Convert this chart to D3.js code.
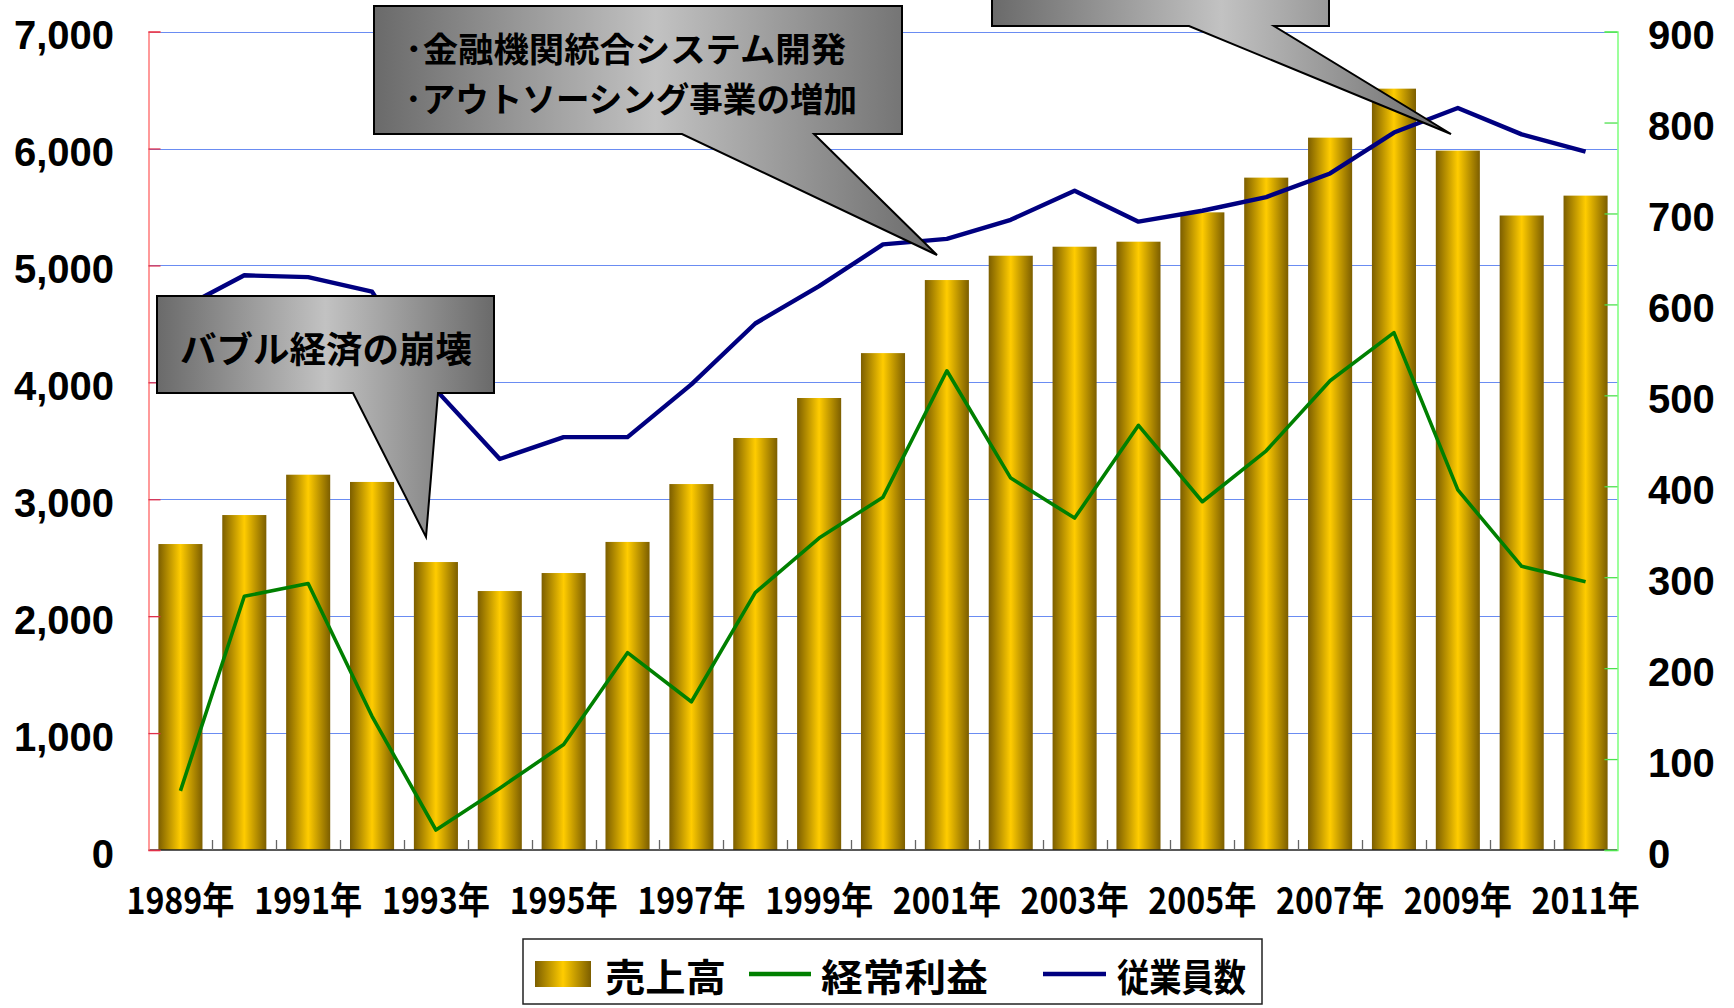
<!DOCTYPE html>
<html><head><meta charset="utf-8">
<script src="https://cdn.jsdelivr.net/npm/d3@7/dist/d3.min.js"></script>
<style>html,body{margin:0;padding:0;background:#fff;overflow:hidden}svg{display:block}</style>
</head><body>
<svg id="chart" width="1734" height="1008"></svg>
<script>
// ---------------- data ----------------
const years = ["1989","1990","1991","1992","1993","1994","1995","1996","1997","1998","1999","2000",
               "2001","2002","2003","2004","2005","2006","2007","2008","2009","2010","2011"];
const sales = [2617,2865,3210,3148,2463,2215,2369,2635,3130,3524,3866,4250,
               4875,5083,5160,5203,5454,5751,6093,6512,5982,5427,5597];           // 売上高 (left axis)
const profit = [65,279,293,147,22,68,116,217,163,283,343,388,
                527,409,365,467,383,439,516,569,396,312,295];                      // 経常利益 (right axis)
const employees = [595,632,630,614,506,430,454,454,512,579,620,666,
                   672,693,725,691,703,718,744,789,816,787,768];                   // 従業員数 (right axis)
const leftTicks = [0,1000,2000,3000,4000,5000,6000,7000];
const rightTicks = [0,100,200,300,400,500,600,700,800,900];
const yearLabelSuffix = "年";
const legendLabels = ["売上高","経常利益","従業員数"];
const callout1Text = ["バブル経済の崩壊"];
const callout2Text = ["･金融機関統合システム開発","･アウトソーシング事業の増加"];

// ---------------- layout ----------------
const W = 1734, H = 1008;
const plot = {left:148.5, right:1617.5, top:31.6, bottom:850};
const CJK = "'Noto Sans CJK JP','Noto Sans CJK SC',sans-serif";
const NUM = "'Liberation Sans',Arial,sans-serif";

const svg = d3.select("#chart");
const defs = svg.append("defs");

const barGrad = defs.append("linearGradient").attr("id","barGrad").attr("x1",0).attr("x2",1).attr("y1",0).attr("y2",0);
[[0,"#7c5e00"],[0.5,"#ffcc00"],[1,"#7c5e00"]].forEach(s=>barGrad.append("stop").attr("offset",s[0]).attr("stop-color",s[1]));
const callGrad = defs.append("linearGradient").attr("id","callGrad").attr("x1",0).attr("x2",1).attr("y1",0).attr("y2",0);
[[0,"#6a6a6a"],[0.5,"#c2c2c2"],[1,"#6a6a6a"]].forEach(s=>callGrad.append("stop").attr("offset",s[0]).attr("stop-color",s[1]));

const x = d3.scaleBand().domain(years).range([plot.left, plot.right]).paddingInner(0.31).paddingOuter(0.155);
const yL = d3.scaleLinear().domain([0,7000]).range([plot.bottom, plot.top]);
const yR = d3.scaleLinear().domain([0,900]).range([plot.bottom, plot.top]);
const cx = d => x(d) + x.bandwidth()/2;

// gridlines
svg.append("g").selectAll("line").data(leftTicks.filter(t=>t>0)).join("line")
  .attr("x1",plot.left).attr("x2",plot.right)
  .attr("y1",d=>Math.round(yL(d))+0.5).attr("y2",d=>Math.round(yL(d))+0.5)
  .attr("stroke","#6a8cf2").attr("stroke-width",1.2);

// bars
svg.append("g").selectAll("rect").data(sales).join("rect")
  .attr("x",(d,i)=>x(years[i])).attr("width",x.bandwidth())
  .attr("y",d=>yL(d)).attr("height",d=>plot.bottom-yL(d))
  .attr("fill","url(#barGrad)");

// bottom axis line + band ticks
svg.append("line").attr("x1",plot.left).attr("x2",plot.right).attr("y1",plot.bottom).attr("y2",plot.bottom)
  .attr("stroke","#222").attr("stroke-width",1.5);
const gap = (x.step()-x.bandwidth())/2;
svg.append("g").selectAll("line").data(years.slice(1)).join("line")
  .attr("x1",d=>Math.round(x(d)-gap)+0.5).attr("x2",d=>Math.round(x(d)-gap)+0.5)
  .attr("y1",plot.bottom).attr("y2",plot.bottom-10)
  .attr("stroke","#666").attr("stroke-width",1.3);

// left axis (red)
const gLt = svg.append("g").attr("transform",`translate(${plot.left},0)`)
  .call(d3.axisRight(yL).tickValues(leftTicks).tickSize(12).tickFormat(""));
gLt.select(".domain").attr("stroke","#ff7a7a").attr("stroke-width",1.5);
gLt.selectAll(".tick line").attr("stroke","#e0304a").attr("stroke-width",1.3);
const gLl = svg.append("g").attr("transform",`translate(${plot.left},0)`)
  .call(d3.axisLeft(yL).tickValues(leftTicks).tickSize(0).tickPadding(34.5).tickFormat(d3.format(",")));
gLl.select(".domain").remove();
gLl.selectAll("text").attr("font-family",NUM).attr("font-weight","bold").attr("font-size",40)
  .attr("fill","#000").attr("dy","0.43em");

// right axis (green)
const gRt = svg.append("g").attr("transform",`translate(${plot.right},0)`)
  .call(d3.axisLeft(yR).tickValues(rightTicks).tickSize(13).tickFormat(""));
gRt.select(".domain").attr("stroke","#7cff7c").attr("stroke-width",1.5);
gRt.selectAll(".tick line").attr("stroke","#4fe04f").attr("stroke-width",1.3);
const gRl = svg.append("g").attr("transform",`translate(${plot.right},0)`)
  .call(d3.axisRight(yR).tickValues(rightTicks).tickSize(0).tickPadding(30.5));
gRl.select(".domain").remove();
gRl.selectAll("text").attr("font-family",NUM).attr("font-weight","bold").attr("font-size",40)
  .attr("fill","#000").attr("dy","0.43em");

// x labels
const gX = svg.append("g").attr("transform",`translate(0,${plot.bottom})`)
  .call(d3.axisBottom(x).tickValues(years.filter((d,i)=>i%2===0)).tickSize(0).tickFormat(d=>d+yearLabelSuffix));
gX.select(".domain").remove();
gX.selectAll("text").attr("y",51).attr("dy","0.36em")
  .attr("font-family",CJK).attr("font-weight",700).attr("font-size",37).attr("fill","#000")
  .attr("textLength",108).attr("lengthAdjust","spacingAndGlyphs");

// lines
const line = d3.line().x((d,i)=>cx(years[i])).y(d=>yR(d));
svg.append("path").datum(profit).attr("d",line).attr("fill","none")
  .attr("stroke","#008000").attr("stroke-width",3.6).attr("stroke-linejoin","round");
svg.append("path").datum(employees).attr("d",line).attr("fill","none")
  .attr("stroke","#000080").attr("stroke-width",4.4).attr("stroke-linejoin","round");

// callouts
function callout(pts){
  svg.append("path").attr("d",d3.line()(pts)+"Z").attr("fill","url(#callGrad)")
    .attr("stroke","#000").attr("stroke-width",2).attr("stroke-linejoin","miter");
}
callout([[157,296],[494,296],[494,393],[438,393],[426,537],[353,393],[157,393]]);
callout([[374,6],[902,6],[902,134],[814,134],[937,255],[682,134],[374,134]]);
callout([[992,-80],[1329,-80],[1329,26],[1274,26],[1451,134],[1189,26],[992,26]]);

svg.append("text").text(callout1Text[0]).attr("x",180).attr("y",347).attr("dominant-baseline","central")
  .attr("font-family",CJK).attr("font-weight",700).attr("font-size",36).attr("fill","#000")
  .attr("textLength",292).attr("lengthAdjust","spacingAndGlyphs");
svg.append("g").selectAll("text").data(callout2Text).join("text").text(d=>d)
  .attr("x",405).attr("y",(d,i)=>47+i*50).attr("dominant-baseline","central")
  .attr("font-family",CJK).attr("font-weight",700).attr("font-size",34).attr("fill","#000")
  .attr("textLength",(d,i)=>i===0?441:452).attr("lengthAdjust","spacingAndGlyphs");

// legend
const lg = svg.append("g");
lg.append("rect").attr("x",523).attr("y",939).attr("width",739).attr("height",65)
  .attr("fill","#fff").attr("stroke","#222").attr("stroke-width",1.5);
lg.append("rect").attr("x",535).attr("y",961).attr("width",56).attr("height",26).attr("fill","url(#barGrad)");
lg.append("line").attr("x1",749).attr("x2",811).attr("y1",974).attr("y2",974).attr("stroke","#008000").attr("stroke-width",4.5);
lg.append("line").attr("x1",1043).attr("x2",1106).attr("y1",974).attr("y2",974).attr("stroke","#000080").attr("stroke-width",4.5);
const legX = [605,821,1117], legLen = [121,167,129];
lg.selectAll("text").data(legendLabels).join("text").text(d=>d)
  .attr("x",(d,i)=>legX[i]).attr("y",974).attr("dominant-baseline","central")
  .attr("font-family",CJK).attr("font-weight",700).attr("font-size",38).attr("fill","#000")
  .attr("textLength",(d,i)=>legLen[i]).attr("lengthAdjust","spacingAndGlyphs");
</script>
</body></html>
